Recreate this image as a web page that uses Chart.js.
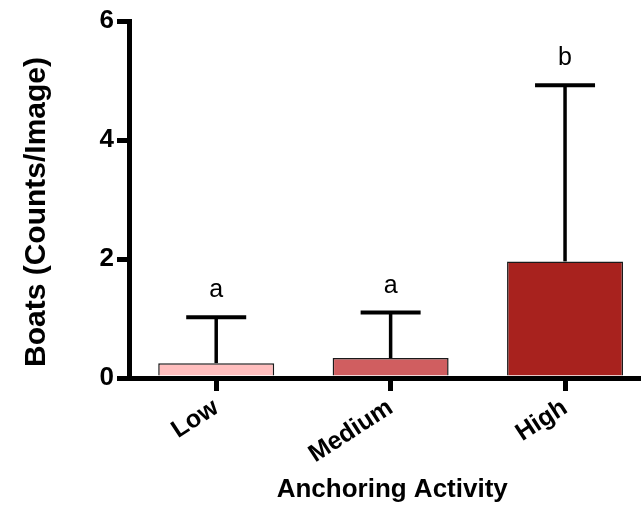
<!DOCTYPE html>
<html>
<head>
<meta charset="utf-8">
<script src="https://cdn.jsdelivr.net/npm/chart.js@4"></script>
<style>
body { margin: 0; background: #fff; }
</style>
</head>
<body>
<canvas id="myChart" width="641" height="510"></canvas>
<script>
var categories = ['Low', 'Medium', 'High'];
var means = [0.25, 0.335, 1.96];
var upper = [1.02, 1.10, 4.92];
var letters = ['a', 'a', 'b'];
var barColors = ['rgb(255,190,190)', 'rgb(208,94,96)', 'rgb(168,34,30)'];
var yTicks = [0, 2, 4, 6];

var points = [];
for (var i = 0; i < categories.length; i++) {
  points.push({ x: i, y: means[i] });
}

// error bars (upper only) and the letters above them
var errorBars = {
  id: 'errorBars',
  afterDatasetsDraw: function(chart) {
    var ctx = chart.ctx;
    var xs = chart.scales.x, ys = chart.scales.y;
    ctx.save();
    ctx.strokeStyle = '#000';
    ctx.fillStyle = '#000';
    for (var i = 0; i < means.length; i++) {
      var x = xs.getPixelForValue(i);
      var y0 = ys.getPixelForValue(means[i]);
      var y1 = ys.getPixelForValue(upper[i]);
      ctx.lineWidth = 3.5;
      ctx.beginPath();
      ctx.moveTo(x, y0);
      ctx.lineTo(x, y1);
      ctx.stroke();
      ctx.lineWidth = 4;
      ctx.beginPath();
      ctx.moveTo(x - 30, y1);
      ctx.lineTo(x + 30, y1);
      ctx.stroke();
      ctx.font = '25px "Liberation Sans", Arial, sans-serif';
      ctx.textAlign = 'center';
      ctx.textBaseline = 'alphabetic';
      ctx.fillText(letters[i], x, y1 - 20);
    }
    ctx.restore();
  }
};

const ctx = document.getElementById('myChart').getContext('2d');
const myChart = new Chart(ctx, {
  type: 'bar',
  data: {
    datasets: [{
      data: points,
      backgroundColor: barColors,
      borderColor: '#1a1a1a',
      borderWidth: 1.5,
      categoryPercentage: 1,
      barPercentage: 0.665
    }]
  },
  options: {
    responsive: false,
    animation: false,
    layout: { padding: { top: 21, right: 0, left: 0, bottom: 0 } },
    plugins: { legend: { display: false }, tooltip: { enabled: false } },
    scales: {
      x: {
        type: 'linear',
        min: -0.5,
        max: 2.4355,
        offset: false,
        z: 1,
        afterFit: function(s) { s.height = 132; },
        afterBuildTicks: function(s) {
          s.ticks = categories.map(function(c, i) { return { value: i }; });
        },
        grid: { drawOnChartArea: false, offset: false, tickLength: 13, lineWidth: 5, color: '#000' },
        border: { width: 5, color: '#000' },
        ticks: {
          minRotation: 33,
          maxRotation: 33,
          padding: 2,
          color: '#000',
          font: { family: '"Liberation Sans", Arial, sans-serif', size: 25, weight: 'bold' },
          callback: function(v) { return categories[v]; }
        },
        title: {
          display: true,
          text: '  Anchoring Activity',
          color: '#000',
          font: { family: '"Liberation Sans", Arial, sans-serif', size: 26, weight: 'bold' },
          padding: { top: 0, bottom: 5 }
        }
      },
      y: {
        min: 0,
        max: 6,
        z: 1,
        afterFit: function(s) { s.width = 129; },
        afterBuildTicks: function(s) {
          s.ticks = yTicks.map(function(v) { return { value: v }; });
        },
        grid: { drawOnChartArea: false, tickLength: 12, lineWidth: 5, color: '#000' },
        border: { width: 5, color: '#000' },
        ticks: {
          padding: 3,
          color: '#000',
          font: { family: '"Liberation Sans", Arial, sans-serif', size: 26, weight: 'bold' }
        },
        title: {
          display: true,
          text: 'Boats (Counts/Image)   ',
          color: '#000',
          font: { family: '"Liberation Sans", Arial, sans-serif', size: 30, weight: 'bold' },
          padding: { top: 19, bottom: 0 }
        }
      }
    }
  },
  plugins: [errorBars]
});
</script>
</body>
</html>
